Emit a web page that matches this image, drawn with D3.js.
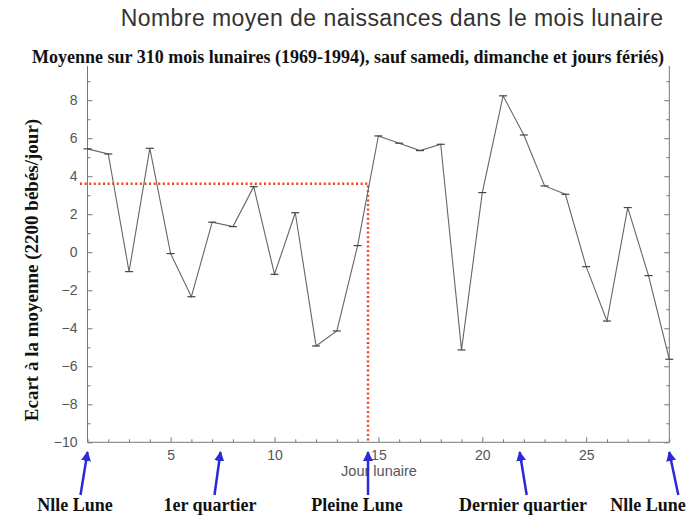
<!DOCTYPE html>
<html>
<head>
<meta charset="utf-8">
<script src="https://cdn.jsdelivr.net/npm/d3@7"></script>
<style>
  body { margin: 0; background: #fff; }
  .tick text { font-family: 'Liberation Sans', Arial, sans-serif; font-size: 14px; fill: #555; }
  .serif { font-family: 'Liberation Serif', 'Times New Roman', serif; font-weight: bold; fill: #111; }
</style>
</head>
<body>
<svg id="chart" width="693" height="516"></svg>
<script>
const days = d3.range(1, 30);
const ecart = [5.44, 5.17, -1.02, 5.47, -0.07, -2.34, 1.58, 1.35, 3.45, -1.16,
  2.08, -4.93, -4.14, 0.35, 6.12, 5.74, 5.35, 5.68, -5.14, 3.14,
  8.23, 6.17, 3.49, 3.05, -0.76, -3.62, 2.35, -1.23, -5.63];

const yTicks = [-10, -8, -6, -4, -2, 0, 2, 4, 6, 8];
const xTicks = [5, 10, 15, 20, 25];

// phases de la lune : jour visé, libellé
const phaseDays = [1, 7.4, 14.5, 21.8, 29];
const phaseLabels = ['Nlle Lune', '1er quartier', 'Pleine Lune', 'Dernier quartier', 'Nlle Lune'];

// repère pleine lune
const fullMoonDay = 14.5;
const fullMoonValue = 3.6;

const svg = d3.select('#chart');

const x = d3.scaleLinear().domain([1, 29]).range([87.5, 669.3]);
const y = d3.scaleLinear().domain([-10, 9.8]).range([442.3, 66]);

const axisColor = '#777';

// Titles
svg.append('text')
  .attr('x', 392).attr('y', 26)
  .attr('text-anchor', 'middle')
  .style('font-family', "'Liberation Sans', Arial, sans-serif")
  .style('font-size', '23px')
  .style('letter-spacing', '0.45px')
  .style('fill', '#333')
  .text('Nombre moyen de naissances dans le mois lunaire');

svg.append('text')
  .attr('class', 'serif')
  .attr('x', 348).attr('y', 63)
  .attr('text-anchor', 'middle')
  .style('font-size', '18px')
  .text('Moyenne sur 310 mois lunaires (1969-1994), sauf samedi, dimanche et jours fériés)');

svg.append('text')
  .attr('class', 'serif')
  .attr('transform', 'translate(38, 270) rotate(-90)')
  .attr('text-anchor', 'middle')
  .style('font-size', '19px')
  .text('Ecart à la moyenne (2200 bébés/jour)');

// Axes
const yMinor = d3.range(-9, 10, 2);

svg.append('g')
  .attr('transform', `translate(${x(1)}, 0)`)
  .call(d3.axisLeft(y).tickValues(yTicks).tickSize(-5).tickPadding(10));

svg.append('g')
  .attr('transform', `translate(${x(1)}, 0)`)
  .call(d3.axisLeft(y).tickValues(yMinor).tickSize(-3).tickFormat(''));

svg.append('g')
  .attr('transform', `translate(${x(29)}, 0)`)
  .call(d3.axisRight(y).tickValues(yTicks).tickSize(-5).tickFormat(''));

svg.append('g')
  .attr('transform', `translate(${x(29)}, 0)`)
  .call(d3.axisRight(y).tickValues(yMinor).tickSize(-3).tickFormat(''));

svg.append('g')
  .attr('transform', `translate(0, ${y(-10)})`)
  .call(d3.axisBottom(x).tickValues(xTicks).tickSize(-5).tickPadding(8));

svg.append('g')
  .attr('transform', `translate(0, ${y(-10)})`)
  .call(d3.axisBottom(x).tickValues(days.filter(d => d % 5 !== 0)).tickSize(-3).tickFormat(''));

svg.selectAll('.tick line').attr('stroke', axisColor);

// keep the domains as plain lines (no outer ticks, no top border)
svg.selectAll('.domain').remove();
svg.append('line')
  .attr('x1', x(1)).attr('x2', x(1)).attr('y1', y(9.8)).attr('y2', y(-10))
  .attr('stroke', axisColor);
svg.append('line')
  .attr('x1', x(29)).attr('x2', x(29)).attr('y1', y(9.8)).attr('y2', y(-10))
  .attr('stroke', axisColor);
svg.append('line')
  .attr('x1', x(1)).attr('x2', x(29)).attr('y1', y(-10)).attr('y2', y(-10))
  .attr('stroke', axisColor);

svg.append('text')
  .attr('x', 379).attr('y', 476)
  .attr('text-anchor', 'middle')
  .style('font-family', "'Liberation Sans', Arial, sans-serif")
  .style('font-size', '14.5px')
  .style('fill', '#555')
  .text('Jour lunaire');

// Red dotted marker for the full moon
svg.append('path')
  .attr('d', `M80,${y(fullMoonValue)}H${x(fullMoonDay)}V${y(-10)}`)
  .attr('fill', 'none')
  .attr('stroke', '#ee4420')
  .attr('stroke-width', 2.5)
  .attr('stroke-dasharray', '2,2.6');

// Data line
const line = d3.line()
  .x((d, i) => x(days[i]))
  .y(d => y(d));

svg.append('path')
  .datum(ecart)
  .attr('fill', 'none')
  .attr('stroke', '#666')
  .attr('stroke-width', 1.1)
  .attr('d', line);

svg.selectAll('.cap')
  .data(ecart)
  .enter().append('line')
  .attr('class', 'cap')
  .attr('x1', (d, i) => x(days[i]) - 4)
  .attr('x2', (d, i) => x(days[i]) + 4)
  .attr('y1', d => y(d))
  .attr('y2', d => y(d))
  .attr('stroke', '#444')
  .attr('stroke-width', 1.2);

// Arrows and moon phase labels
svg.append('defs').append('marker')
  .attr('id', 'head')
  .attr('viewBox', '0 0 10 10')
  .attr('refX', 9).attr('refY', 5)
  .attr('markerWidth', 4).attr('markerHeight', 4)
  .attr('orient', 'auto')
  .append('path')
  .attr('d', 'M0,0L10,5L0,10Z')
  .attr('fill', '#2a2ad6');

const tailShift = [-7, -6, 0, 7, 9];
const labelX = [75, 210, 357, 523, 655];

svg.selectAll('.arrow')
  .data(phaseDays)
  .enter().append('line')
  .attr('class', 'arrow')
  .attr('x1', (d, i) => x(d) + tailShift[i])
  .attr('y1', 495)
  .attr('x2', d => x(d))
  .attr('y2', 452)
  .attr('stroke', '#2a2ad6')
  .attr('stroke-width', 2.5)
  .attr('marker-end', 'url(#head)');

svg.selectAll('.phase')
  .data(phaseLabels)
  .enter().append('text')
  .attr('class', 'serif phase')
  .attr('x', (d, i) => Math.min(labelX[i], 648))
  .attr('y', 511)
  .attr('text-anchor', 'middle')
  .style('font-size', '18px')
  .text(d => d);
</script>
</body>
</html>
